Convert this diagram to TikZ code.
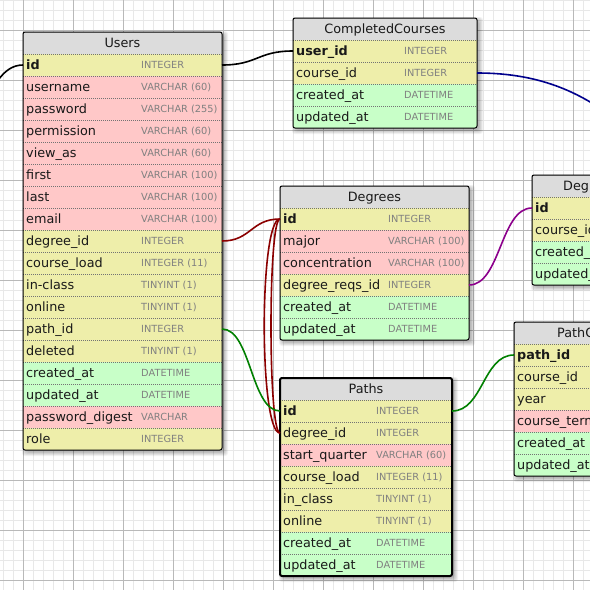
\documentclass[tikz,border=0pt]{standalone}
\usepackage{fontspec}
\setmainfont{DejaVu Sans}
\usetikzlibrary{calc}

\definecolor{rowkey}{RGB}{238,238,170}
\definecolor{rowtext}{RGB}{255,200,200}
\definecolor{rowtime}{RGB}{200,255,200}
\definecolor{headgray}{RGB}{220,220,220}
\definecolor{gridminor}{RGB}{232,232,232}
\definecolor{gridmajor}{RGB}{185,185,185}
\definecolor{typegray}{RGB}{128,128,128}
\definecolor{relred}{RGB}{139,0,0}
\definecolor{relgreen}{RGB}{0,128,0}
\definecolor{relpurple}{RGB}{140,0,140}
\definecolor{relblue}{RGB}{0,0,140}

\tikzset{
  tblrow/.style={rectangle, inner sep=0, outer sep=0, minimum height=22pt, draw=none},
  fieldtxt/.style={inner sep=0, anchor=base west, font=\fontsize{12.8}{14}\selectfont, text=black!90},
  typetxt/.style={inner sep=0, anchor=base west, font=\fontsize{9.8}{11}\selectfont, text=typegray},
  titletxt/.style={inner sep=0, anchor=base, font=\fontsize{12.8}{14}\selectfont, text=black!90},
  rowsep/.style={draw=black!55, line width=1pt, dash pattern=on 1pt off 1pt},
  tblframe/.style={draw=black, line width=1pt, rounded corners=2pt},
  rel/.style={line width=1.6pt},
}

% #1 prefix, #2 left, #3 top, #4 width, #5 type column offset,
% #6 number of rows, #7 extra frame style, #8 unused, #9 rows key/label/type/fill
\newcommand\dbtable[9]{%
  \foreach \sb in {0,...,5}
    \fill[black, opacity=0.05, rounded corners=3pt]
      (#2+3-\sb*0.8, #3+3-\sb*0.8) rectangle (#2+#4+2+\sb*0.8, #3+22*#6+22+2+\sb*0.8);
  \begin{scope}
    \clip[rounded corners=2pt] (#2,#3) rectangle (#2+#4, #3+22*#6+22);
    \node[tblrow, fill=headgray, minimum width=#4pt, anchor=north west] (#1-head) at (#2,#3) {};
    \foreach \rk/\rl/\rt/\rc [count=\ri] in {#9} {
      \node[tblrow, fill=\rc, minimum width=#4pt, anchor=north west] (#1-\rk) at (#2, #3+22*\ri) {};
      \node[fieldtxt] (#1-\rk-name) at ($(#1-\rk.west)+(3,4.7)$) {\rl};
      \node[typetxt] (#1-\rk-type) at ($(#1-\rk.west)+(#5,3.8)$) {\rt};
      \draw[rowsep] (#1-\rk.north west) -- (#1-\rk.north east);
    }
  \end{scope}
  \draw[tblframe, #7] (#2,#3) rectangle (#2+#4, #3+22*#6+22);
}

\begin{document}
\begin{tikzpicture}[x=1pt, y=-1pt]
  \useasboundingbox (0,0) rectangle (590,590);
  \clip (0,0) rectangle (590,590);
  \fill[white] (0,0) rectangle (590,590);

  % background grid
  \foreach \gx in {3,13,...,593} \draw[gridminor, line width=1pt] (\gx,0) -- (\gx,590);
  \foreach \gy in {0,10,...,590} \draw[gridminor, line width=1pt] (0,\gy) -- (590,\gy);
  \foreach \gx in {23,73,...,573} \draw[gridmajor, line width=1pt] (\gx,0) -- (\gx,590);
  \foreach \gy in {30,80,...,580} \draw[gridmajor, line width=1pt] (0,\gy) -- (590,\gy);

  % Users
  \dbtable{users}{23}{32}{199}{118}{18}{}{}{%
    id/{\bfseries id}/INTEGER/rowkey,
    username/username/VARCHAR (60)/rowtext,
    password/password/VARCHAR (255)/rowtext,
    permission/permission/VARCHAR (60)/rowtext,
    viewas/view\_as/VARCHAR (60)/rowtext,
    first/first/VARCHAR (100)/rowtext,
    last/last/VARCHAR (100)/rowtext,
    email/email/VARCHAR (100)/rowtext,
    degreeid/degree\_id/INTEGER/rowkey,
    courseload/course\_load/INTEGER (11)/rowkey,
    inclass/in-class/TINYINT (1)/rowkey,
    online/online/TINYINT (1)/rowkey,
    pathid/path\_id/INTEGER/rowkey,
    deleted/deleted/TINYINT (1)/rowkey,
    created/created\_at/DATETIME/rowtime,
    updated/updated\_at/DATETIME/rowtime,
    digest/password\_digest/VARCHAR/rowtext,
    role/role/INTEGER/rowkey}
  \node[titletxt] (users-title) at ($(users-head.center)+(0,4.7)$) {Users};

  % CompletedCourses
  \dbtable{cc}{293}{18}{184}{111}{4}{}{}{%
    userid/{\bfseries user\_id}/INTEGER/rowkey,
    courseid/course\_id/INTEGER/rowkey,
    created/created\_at/DATETIME/rowtime,
    updated/updated\_at/DATETIME/rowtime}
  \node[titletxt] (cc-title) at ($(cc-head.center)+(0,4.7)$) {CompletedCourses};

  % Degrees
  \dbtable{deg}{280}{186}{189}{108}{6}{}{}{%
    id/{\bfseries id}/INTEGER/rowkey,
    major/major/VARCHAR (100)/rowtext,
    conc/concentration/VARCHAR (100)/rowtext,
    reqs/degree\_reqs\_id/INTEGER/rowkey,
    created/created\_at/DATETIME/rowtime,
    updated/updated\_at/DATETIME/rowtime}
  \node[titletxt] (deg-title) at ($(deg-head.center)+(0,4.7)$) {Degrees};

  % requirements table at the right border
  \dbtable{dr}{532}{175}{90}{200}{4}{}{}{%
    id/{\bfseries id}/{}/rowkey,
    courseid/course\_id/{}/rowkey,
    created/created\_at/{}/rowtime,
    updated/updated\_at/{}/rowtime}
  \node[titletxt, anchor=base west] (dr-title) at ($(dr-head.west)+(31,4.7)$) {Deg};

  % path courses table at the right border
  \dbtable{pc}{514}{322}{120}{200}{6}{}{}{%
    pathid/{\bfseries path\_id}/{}/rowkey,
    courseid/course\_id/{}/rowkey,
    year/year/{}/rowkey,
    term/course\_term/{}/rowtext,
    created/created\_at/{}/rowtime,
    updated/updated\_at/{}/rowtime}
  \node[titletxt, anchor=base west] (pc-title) at ($(pc-head.west)+(43,4.7)$) {PathC};

  % Paths (selected, heavier frame)
  \dbtable{paths}{280}{378}{172}{96}{8}{line width=2pt}{}{%
    id/{\bfseries id}/INTEGER/rowkey,
    degreeid/degree\_id/INTEGER/rowkey,
    start/start\_quarter/VARCHAR (60)/rowtext,
    courseload/course\_load/INTEGER (11)/rowkey,
    inclass/in\_class/TINYINT (1)/rowkey,
    online/online/TINYINT (1)/rowkey,
    created/created\_at/DATETIME/rowtime,
    updated/updated\_at/DATETIME/rowtime}
  \node[titletxt] (paths-title) at ($(paths-head.center)+(0,4.7)$) {Paths};

  % relations
  \coordinate (offleft) at (-60,160);
  \coordinate (offright) at (800,200);
  \draw[rel, black] (users-id.east) .. controls +(35.5,0) and +(-35.5,0) .. (cc-userid.west);
  \draw[rel, black] (users-id.west) .. controls +(-41.5,0) and +(41.5,0) .. (offleft);
  \draw[rel, relblue] (cc-courseid.east) .. controls +(161.5,0) and +(-161.5,0) .. (offright);
  \draw[rel, relred] (users-degreeid.east) .. controls +(29,0) and +(-29,0) .. (deg-id.west);
  \draw[rel, relred] (paths-degreeid.west) .. controls +(-21,0) and +(-21,0) .. (deg-id.west);
  \draw[rel, relred] (paths-degreeid.west) .. controls +(-12,0) and +(-12,0) .. (deg-id.west);
  \draw[rel, relgreen] (users-pathid.east) .. controls +(29,0) and +(-29,0) .. (paths-id.west);
  \draw[rel, relgreen] (paths-id.east) .. controls +(31,0) and +(-31,0) .. (pc-pathid.west);
  \draw[rel, relpurple] (deg-reqs.east) .. controls +(31.5,0) and +(-31.5,0) .. (dr-id.west);
\end{tikzpicture}
\end{document}
